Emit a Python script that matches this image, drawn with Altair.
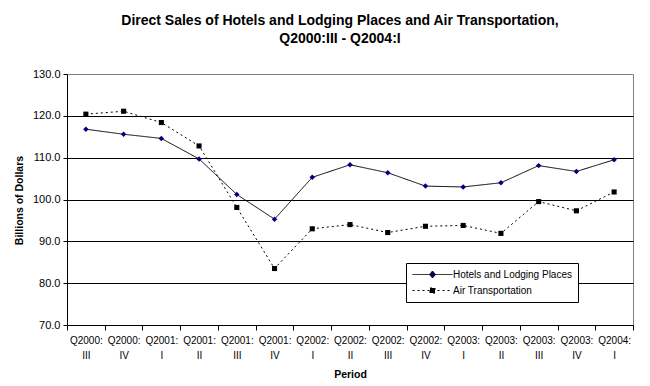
import altair as alt
import pandas as pd

periods = ["Q2000:|III", "Q2000:|IV", "Q2001:|I", "Q2001:|II", "Q2001:|III", "Q2001:|IV",
           "Q2002:|I", "Q2002:|II", "Q2002:|III", "Q2002:|IV", "Q2003:|I", "Q2003:|II",
           "Q2003:|III", "Q2003:|IV", "Q2004:|I"]
hotels = [116.8, 115.6, 114.6, 109.7, 101.2, 95.3, 105.3, 108.3, 106.4, 103.2, 103.0, 104.0, 108.1, 106.7, 109.5]
air = [120.4, 121.1, 118.4, 112.8, 98.1, 83.5, 93.0, 94.0, 92.1, 93.6, 93.8, 91.9, 99.5, 97.3, 101.8]
series_names = ["Hotels and Lodging Places", "Air Transportation"]

rows = []
for p, v in zip(periods, hotels):
    rows.append({"Period": p, "Series": series_names[0], "Value": v})
for p, v in zip(periods, air):
    rows.append({"Period": p, "Series": series_names[1], "Value": v})
df = pd.DataFrame(rows)

FONT = "Liberation Sans"

x_enc = alt.X("Period:N", sort=periods, bandPosition=0.5,
              scale=alt.Scale(type="band", paddingInner=0, paddingOuter=0),
              axis=alt.Axis(title="Period", labelExpr="split(datum.label, '|')",
                            labelAngle=0, labelFont=FONT, labelFontSize=10, labelColor="black",
                            labelLineHeight=15, labelPadding=5, tickBand="extent",
                            tickColor="black", tickSize=5, domainColor="black",
                            titleFont=FONT, titleFontSize=10.5, titleFontWeight="bold",
                            titlePadding=9, titleColor="black", grid=False))
y_enc = alt.Y("Value:Q", scale=alt.Scale(domain=[70, 130], nice=False, zero=False),
              axis=alt.Axis(title="Billions of Dollars", values=[70, 80, 90, 100, 110, 120, 130],
                            format=".1f", labelFont=FONT, labelFontSize=11, labelColor="black",
                            labelPadding=3,
                            tickColor="black", tickSize=4, domainColor="black",
                            titleFont=FONT, titleFontSize=10.5, titleFontWeight="bold",
                            titleColor="black", titleX=-43, titleY=126,
                            gridColor={"condition": {"test": "datum.value >= 130 || datum.value <= 70",
                                                     "value": "transparent"}, "value": "black"},
                            gridOpacity=1))

sq_path = "M-1,0L7,0M2.5,-0.5L3.5,-0.5L3.5,0.5L2.5,0.5Z"
dm_path = "M-1,0L7,0M3,-0.7L3.6,0L3,0.7L2.4,0Z"
shape_expr = "datum.value == 'Air Transportation' ? '" + sq_path + "' : '" + dm_path + "'"
fill_expr = "datum.value == 'Air Transportation' ? 'black' : '#000080'"

lines = alt.Chart(df).mark_line(color="black", strokeWidth=1).encode(
    x=x_enc, y=y_enc,
    strokeDash=alt.StrokeDash("Series:N", sort=series_names,
                              scale=alt.Scale(domain=series_names, range=[[1, 0], [2, 3]]),
                              legend=alt.Legend(title=None, orient="none", legendX=339, legendY=189,
                                                fillColor="white", strokeColor="black",
                                                padding=6, rowPadding=5,
                                                labelFont=FONT, labelFontSize=10, labelColor="black",
                                                symbolSize=100,
                                                symbolType={"expr": shape_expr},
                                                symbolFillColor={"expr": fill_expr},
                                                symbolStrokeColor="black", symbolStrokeWidth=1,
                                                symbolOpacity=1,
                                                labelOffset=30))
)

hot_pts = alt.Chart(df).transform_filter(alt.datum.Series == series_names[0]).mark_point(
    filled=True, opacity=1, size=30, shape="diamond", color="#000080").encode(x=x_enc, y=y_enc)
air_pts = alt.Chart(df).transform_filter(alt.datum.Series == series_names[1]).mark_point(
    filled=True, opacity=1, size=26, shape="square", color="black").encode(x=x_enc, y=y_enc)

chart = (lines + hot_pts + air_pts).properties(
    width=566, height=251,
    autosize=alt.AutoSizeParams(type="none"),
    padding={"left": 59, "top": 66, "right": 9, "bottom": 53},
    background="white",
    title=alt.TitleParams(text=["Direct Sales of Hotels and Lodging Places and Air Transportation,",
                                "Q2000:III - Q2004:I"],
                          font=FONT, fontSize=14, fontWeight="bold", color="black",
                          anchor="middle", dx=-10, offset=22, lineHeight=18),
).configure_view(stroke="#808080", strokeWidth=1)

chart.save("out.html", embed_options={"renderer": "svg", "actions": False})
